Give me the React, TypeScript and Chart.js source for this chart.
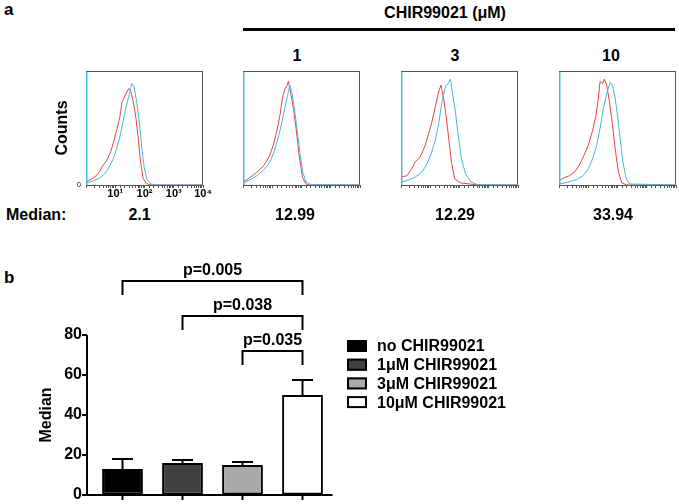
import React, { useEffect, useRef } from 'react';
import { Chart, registerables } from 'chart.js';

Chart.register(...registerables);

const FONT = '"Liberation Sans", Arial, Helvetica, sans-serif';
const RED = '#e5453b';
const CYAN = '#48b6e2';
const CLEAR = 'rgba(0,0,0,0)';

// ---------- Panel a: flow cytometry histograms (intensity, counts) ----------
const concentrationLabels = ['', '1', '3', '10'];
const medianValues = ['2.1', '12.99', '12.29', '33.94'];
const decadeLabels: Record<number, string> = { 1: '10¹', 2: '10²', 3: '10³', 4: '10⁴' };

const ctrlRed = [[1, 2.7], [1.5, 5.0], [2.2, 8.0], [2.9, 11.5], [3.7, 16.8], [5.1, 21.2], [7.0, 29.2], [9.0, 38.9], [11.7, 49.9], [14.3, 59.6], [17.1, 72.9], [22.1, 78.8], [28.6, 84.7], [34.1, 82.3], [41.9, 72.3], [51.4, 58.1], [61.5, 40.4], [73.6, 19.8], [90.3, 5.6], [116.6, 1.2], [171, 0], [10000, 0]];
const ctrlCyan = [[1, 1.5], [1.7, 3.5], [2.9, 5.9], [4.2, 9.4], [6.1, 15.3], [8.6, 23.3], [11.1, 31.6], [14.3, 41.9], [17.6, 52.8], [22.1, 65.5], [28.6, 77.3], [36.9, 89.1], [44.1, 86.1], [54.1, 72.9], [66.4, 55.2], [79.4, 34.5], [97.5, 15.3], [122.7, 4.4], [171, 0.9], [251, 0], [10000, 0]];
const chir1Red = [[1, 2.4], [1.8, 6.8], [3.0, 11.2], [5.2, 17.1], [7.7, 24.4], [10.8, 34.7], [14.1, 46.5], [18.4, 61.2], [22.1, 75.9], [27.4, 84.7], [32.9, 87.6], [35.6, 91.2], [42.9, 80.3], [53.0, 67.1], [65.5, 49.4], [83.1, 25.9], [108, 6.8], [141, 0.9], [184, 0], [10000, 0]];
const chir1Cyan = [[1, 1.5], [1.8, 4.7], [3.0, 8.2], [5.2, 13.5], [8.3, 20], [11.4, 28.8], [15.7, 40.6], [20.4, 52.4], [26.6, 67.1], [32.9, 77.4], [39.6, 87.6], [46.4, 81.8], [55.9, 68.5], [69.0, 50.9], [87.6, 28.8], [111, 11.2], [141, 2.9], [210, 0.3], [10000, 0]];
const chir3Red = [[1, 6.8], [1.6, 8.2], [2.3, 14.1], [3.0, 20], [4.5, 24.4], [6.7, 34.7], [8.8, 45], [11.4, 55.3], [14.9, 68.5], [19.4, 81.8], [23.3, 87.6], [28.8, 75.9], [34.7, 61.2], [42.9, 40.6], [53.0, 20], [69.0, 5.3], [108, 1.8], [273, 0.6], [407, 0], [10000, 0]];
const chir3Cyan = [[1, 2.4], [1.8, 4.4], [3.0, 6.8], [5.2, 11.2], [7.7, 18.5], [10.8, 27.4], [14.9, 39.1], [19.4, 53.8], [25.2, 72.9], [32.9, 86.2], [40.7, 89.1], [49.0, 92.9], [58.9, 78.8], [72.8, 64.1], [89.9, 43.5], [117, 22.9], [161, 9.7], [239, 2.9], [407, 0.3], [10000, 0]];
const chir10Red = [[1, 3.8], [1.6, 6.8], [2.3, 8.2], [3.5, 11.8], [4.9, 17.1], [6.7, 24.4], [10, 34.7], [14.1, 47.9], [18.4, 61.2], [22.1, 75.9], [25.2, 90.6], [31.2, 89.1], [35.6, 92.9], [42.9, 87.6], [53.0, 72.9], [65.5, 55.3], [83.1, 31.8], [108, 11.2], [141, 1.8], [210, 0], [10000, 0]];
const chir10Cyan = [[1, 0.9], [2.0, 2.4], [4.0, 4.7], [6.7, 8.2], [10, 14.1], [14.1, 22.9], [19.4, 34.7], [25.2, 49.4], [32.9, 67.1], [42.9, 80.3], [55.9, 90], [67.3, 87.6], [83.1, 75.9], [100, 61.2], [124, 40.6], [153, 20], [199, 5.3], [259, 0.9], [10000, 0]];

const panelRed = [ctrlRed, chir1Red, chir3Red, chir10Red];
const panelCyan = [ctrlCyan, chir1Cyan, chir3Cyan, chir10Cyan];

// ---------- Panel b: bar chart ----------
const groups = ['no CHIR99021', '1μM CHIR99021', '3μM CHIR99021', '10μM CHIR99021'];
const medianMeans = [13, 16, 15, 50];
const medianSem = [5, 1.5, 1.5, 7.5];
const barColors = ['#000000', '#404040', '#a9a9a9', '#ffffff'];
const yTickValues = [0, 20, 40, 60, 80];
const compareFrom = [0, 1, 2];
const compareTo = [3, 3, 3];
const compareLevel = [107, 89.5, 72];
const compareText = ['p=0.005', 'p=0.038', 'p=0.035'];

// panel geometry (layout only)
const boxLefts = [86, 243, 401, 559];
const concX = [297, 455, 611];
const medianX = [139.5, 295, 455, 613];

const histBoxPlugin = {
  id: 'histBox',
  beforeDatasetsDraw(chart: any) {
    const { ctx, chartArea: a } = chart;
    ctx.save();
    ctx.strokeStyle = '#555';
    ctx.lineWidth = 1;
    ctx.strokeRect(a.left + 0.5, a.top + 0.5, a.right - a.left - 1, a.bottom - a.top);
    ctx.restore();
  },
  afterDatasetsDraw(chart: any) {
    const { ctx, chartArea: a } = chart;
    ctx.save();
    ctx.strokeStyle = CYAN;
    ctx.lineWidth = 1.5;
    ctx.beginPath();
    ctx.moveTo(a.left + 0.75, a.top + 1);
    ctx.lineTo(a.left + 0.75, a.bottom);
    ctx.stroke();
    ctx.restore();
  },
};

function Histogram({ index }: { index: number }) {
  const ref = useRef<HTMLCanvasElement>(null);
  const first = index === 0;
  useEffect(() => {
    const toPts = (arr: number[][]) => arr.map(([x, y]) => ({ x, y }));
    const chart = new Chart(ref.current!, {
      type: 'line',
      data: {
        datasets: [
          { data: toPts(panelCyan[index]), borderColor: CYAN, borderWidth: 1, pointRadius: 0, fill: false, tension: 0 },
          { data: toPts(panelRed[index]), borderColor: RED, borderWidth: 1, pointRadius: 0, fill: false, tension: 0 },
        ],
      } as any,
      options: {
        animation: false,
        responsive: false,
        events: [],
        layout: { padding: { top: 5, right: 12, left: 0, bottom: 0 } },
        plugins: { legend: { display: false }, tooltip: { enabled: false } },
        scales: {
          x: {
            type: 'logarithmic',
            min: 1,
            max: 10000,
            afterFit: (s: any) => { s.height = 21; },
            grid: { display: true, drawOnChartArea: false, drawTicks: true, tickLength: 3, color: '#555', lineWidth: 1 },
            border: { display: false },
            ticks: {
              autoSkip: false,
              maxRotation: 0,
              minRotation: 0,
              padding: 0,
              color: '#000',
              font: { family: FONT, size: 11, weight: 'bold', lineHeight: 1 },
              callback: (v: any) => {
                if (!first) return '';
                const l = Math.log10(Number(v));
                const r = Math.round(l);
                return Math.abs(l - r) < 1e-6 && decadeLabels[r] ? decadeLabels[r] : '';
              },
            },
          },
          y: {
            min: 0,
            max: 100,
            afterFit: (s: any) => { s.width = 36; },
            grid: { display: true, drawOnChartArea: false, drawTicks: true, tickLength: 5, color: CLEAR },
            border: { display: false },
            ticks: {
              autoSkip: false,
              padding: 0,
              color: '#000',
              font: { family: FONT, size: 7, lineHeight: 1 },
              callback: (v: any) => (first && Number(v) === 0 ? '0' : ''),
            },
            title: {
              display: first,
              text: 'Counts',
              color: '#000',
              padding: { top: 3, bottom: 3 },
              font: { family: FONT, size: 16, weight: 'bold' },
            },
          },
        },
      } as any,
      plugins: [histBoxPlugin],
    });
    return () => chart.destroy();
  }, []);
  return (
    <canvas
      ref={ref}
      width={165}
      height={140}
      style={{ position: 'absolute', left: boxLefts[index] - 36, top: 66, width: 165, height: 140 }}
    />
  );
}

const barExtrasPlugin = {
  id: 'barExtras',
  afterDatasetsDraw(chart: any) {
    const { ctx, chartArea: a, scales } = chart;
    const x = scales.x;
    const y = scales.y;
    const axisX = a.left - 5.5;
    const line = (x1: number, y1: number, x2: number, y2: number) => {
      ctx.beginPath();
      ctx.moveTo(x1, y1);
      ctx.lineTo(x2, y2);
      ctx.stroke();
    };
    ctx.save();
    ctx.strokeStyle = '#000';
    ctx.fillStyle = '#000';
    ctx.lineWidth = 2;
    ctx.lineCap = 'butt';

    // error bars (upper SEM)
    medianMeans.forEach((m, i) => {
      const cx = x.getPixelForValue(i);
      const y0 = y.getPixelForValue(m);
      const y1 = y.getPixelForValue(m + medianSem[i]);
      line(cx, y0, cx, y1);
      line(cx - 10.5, y1, cx + 10.5, y1);
    });

    // axes
    line(axisX, y.getPixelForValue(80), axisX, a.bottom + 1);
    line(axisX - 1, a.bottom, a.right, a.bottom);
    yTickValues.forEach((v) => {
      const py = y.getPixelForValue(v);
      line(axisX - 5, py, axisX, py);
    });
    groups.forEach((_, i) => {
      const cx = x.getPixelForValue(i);
      line(cx, a.bottom, cx, a.bottom + 5);
    });

    // significance brackets
    ctx.font = `bold 16px ${FONT}`;
    ctx.textAlign = 'center';
    ctx.textBaseline = 'alphabetic';
    compareFrom.forEach((from, k) => {
      const x1 = x.getPixelForValue(from);
      const x2 = x.getPixelForValue(compareTo[k]);
      const py = y.getPixelForValue(compareLevel[k]);
      ctx.beginPath();
      ctx.moveTo(x1, py + 14);
      ctx.lineTo(x1, py);
      ctx.lineTo(x2, py);
      ctx.lineTo(x2, py + 14);
      ctx.stroke();
      ctx.fillText(compareText[k], (x1 + x2) / 2, py - 6);
    });

    // legend
    const lx = a.right + 14.5;
    ctx.textAlign = 'left';
    ctx.textBaseline = 'middle';
    groups.forEach((g, i) => {
      const cy = a.top + 11 + i * 18.7;
      ctx.fillStyle = barColors[i];
      ctx.fillRect(lx, cy - 6, 20, 12);
      ctx.strokeRect(lx + 1, cy - 5, 18, 10);
      ctx.fillStyle = '#000';
      ctx.fillText(g, lx + 30, cy + 1);
    });
    ctx.restore();
  },
};

function BarPanel() {
  const ref = useRef<HTMLCanvasElement>(null);
  useEffect(() => {
    const chart = new Chart(ref.current!, {
      type: 'bar',
      data: {
        labels: groups,
        datasets: [
          {
            data: medianMeans,
            backgroundColor: barColors,
            borderColor: '#000',
            borderWidth: 2,
            borderSkipped: false,
            categoryPercentage: 1,
            barPercentage: 0.68,
          },
        ],
      } as any,
      options: {
        animation: false,
        responsive: false,
        events: [],
        layout: { padding: { top: 85, right: 346.5, left: 35, bottom: 0 } },
        plugins: { legend: { display: false }, tooltip: { enabled: false } },
        scales: {
          x: {
            type: 'category',
            offset: true,
            afterFit: (s: any) => { s.height = 9; },
            grid: { display: false, drawTicks: false },
            border: { display: false },
            ticks: { display: false },
          },
          y: {
            min: 0,
            max: 80,
            afterFit: (s: any) => { s.width = 57.5; },
            grid: { display: true, drawOnChartArea: false, drawTicks: true, tickLength: 10.5, color: CLEAR },
            border: { display: false },
            ticks: {
              stepSize: 20,
              padding: 0,
              color: '#000',
              font: { family: FONT, size: 16, weight: 'bold', lineHeight: 1 },
            },
            title: {
              display: true,
              text: 'Median',
              color: '#000',
              padding: { top: 2, bottom: 2 },
              font: { family: FONT, size: 16, weight: 'bold' },
            },
          },
        },
      } as any,
      plugins: [barExtrasPlugin],
    });
    return () => chart.destroy();
  }, []);
  return (
    <canvas
      ref={ref}
      width={679}
      height={254}
      style={{ position: 'absolute', left: 0, top: 250, width: 679, height: 254 }}
    />
  );
}

function Label({ x, y, text, size = 16, align = 'center' }: { x: number; y: number; text: string; size?: number; align?: string }) {
  return (
    <div
      style={{
        position: 'absolute',
        left: x,
        top: y,
        transform: align === 'center' ? 'translate(-50%, -50%)' : 'translate(0, -50%)',
        fontFamily: FONT,
        fontWeight: 'bold',
        fontSize: size,
        lineHeight: 1,
        whiteSpace: 'nowrap',
        color: '#000',
      }}
    >
      {text}
    </div>
  );
}

export default function App() {
  return (
    <div style={{ position: 'absolute', left: 0, top: 0, width: 679, height: 504, overflow: 'hidden', background: '#fff' }}>
      <Label x={4} y={9} text="a" size={17} align="left" />
      <Label x={445} y={12.5} text="CHIR99021 (μM)" />
      <div style={{ position: 'absolute', left: 243, top: 28, width: 432, height: 3, background: '#000' }} />
      {concentrationLabels.slice(1).map((c, i) => (
        <Label key={c} x={concX[i]} y={55.5} text={c} />
      ))}
      {[0, 1, 2, 3].map((i) => (
        <Histogram key={i} index={i} />
      ))}
      <Label x={6} y={215} text="Median:" align="left" />
      {medianValues.map((m, i) => (
        <Label key={m + i} x={medianX[i]} y={215} text={m} />
      ))}
      <Label x={4} y={277} text="b" size={17} align="left" />
      <BarPanel />
    </div>
  );
}
